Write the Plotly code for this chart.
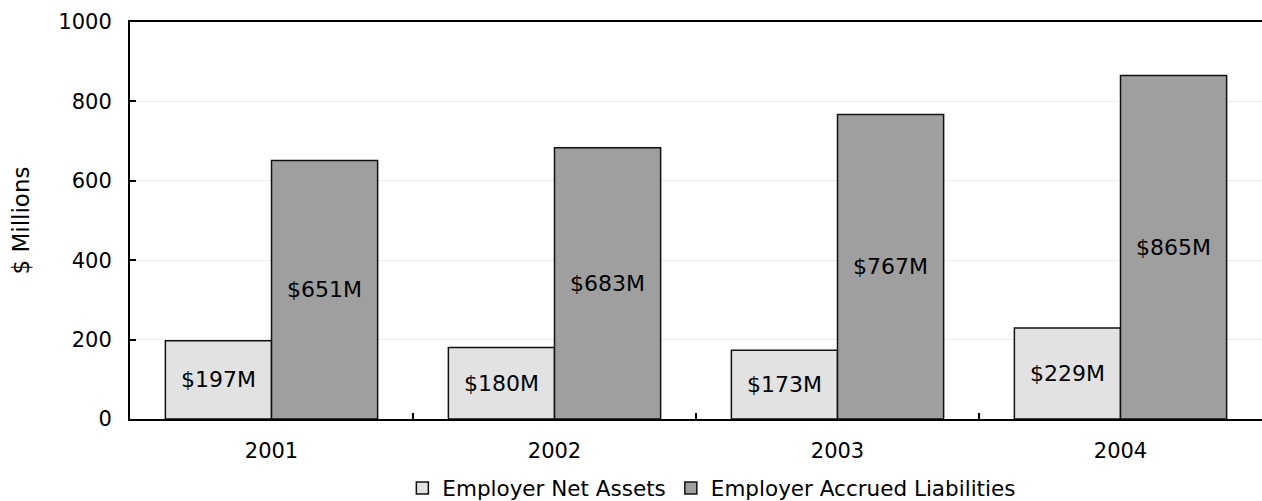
import plotly.graph_objects as go

years = ["2001", "2002", "2003", "2004"]
net_assets = [197, 180, 173, 229]
accrued_liabilities = [651, 683, 767, 865]
y_ticks = [0, 200, 400, 600, 800, 1000]

FONT = "DejaVu Sans, Verdana, sans-serif"
TICK_FS = 21
LABEL_FS = 22
LEGEND_FS = 21.5
TITLE_FS = 23


def money_labels(values):
    return [f"${v}M" for v in values]


fig = go.Figure()
fig.add_trace(go.Bar(
    name="Employer Net Assets",
    x=years, y=net_assets,
    text=money_labels(net_assets),
    textposition="inside", insidetextanchor="middle", textangle=0,
    textfont=dict(color="#000000", size=LABEL_FS, family=FONT),
    marker=dict(color="#e2e2e2", line=dict(color="#111111", width=1.5)),
))
fig.add_trace(go.Bar(
    name="Employer Accrued Liabilities",
    x=years, y=accrued_liabilities,
    text=money_labels(accrued_liabilities),
    textposition="inside", insidetextanchor="middle", textangle=0,
    textfont=dict(color="#000000", size=LABEL_FS, family=FONT),
    marker=dict(color="#9f9f9f", line=dict(color="#111111", width=1.5)),
))

fig.update_layout(
    width=1262, height=501,
    margin=dict(l=130, r=0, t=22, b=82, autoexpand=False),
    paper_bgcolor="white", plot_bgcolor="white",
    font=dict(family=FONT, size=TICK_FS, color="#000000"),
    barmode="group", bargap=0.25, bargroupgap=0,
    showlegend=True,
    legend=dict(
        orientation="h", x=0.514, xanchor="center",
        yref="container", y=0.026, yanchor="middle",
        font=dict(size=LEGEND_FS, family=FONT), itemwidth=30, tracegroupgap=0,
        bgcolor="rgba(0,0,0,0)",
    ),
    uniformtext=dict(minsize=LABEL_FS, mode="show"),
)
fig.update_xaxes(
    showline=True, linecolor="#000000", linewidth=2, mirror=True,
    ticks="inside", ticklen=6, tickcolor="#000000", tickwidth=1.5,
    tickson="boundaries", showgrid=False, ticklabelstandoff=12,
    automargin=False,
    tickfont=dict(size=TICK_FS, family=FONT),
)
fig.update_yaxes(
    range=[0, 1000], tickvals=y_ticks,
    showline=True, linecolor="#000000", linewidth=2,
    ticks="inside", ticklen=6, tickcolor="#000000", tickwidth=1.5,
    showgrid=True, gridcolor="#ececec", gridwidth=1,
    zeroline=False, ticklabelstandoff=12, automargin=False,
    title=dict(text="$ Millions", font=dict(size=TITLE_FS, family=FONT), standoff=22),
    tickfont=dict(size=TICK_FS, family=FONT),
)

fig.write_html("out.html")
